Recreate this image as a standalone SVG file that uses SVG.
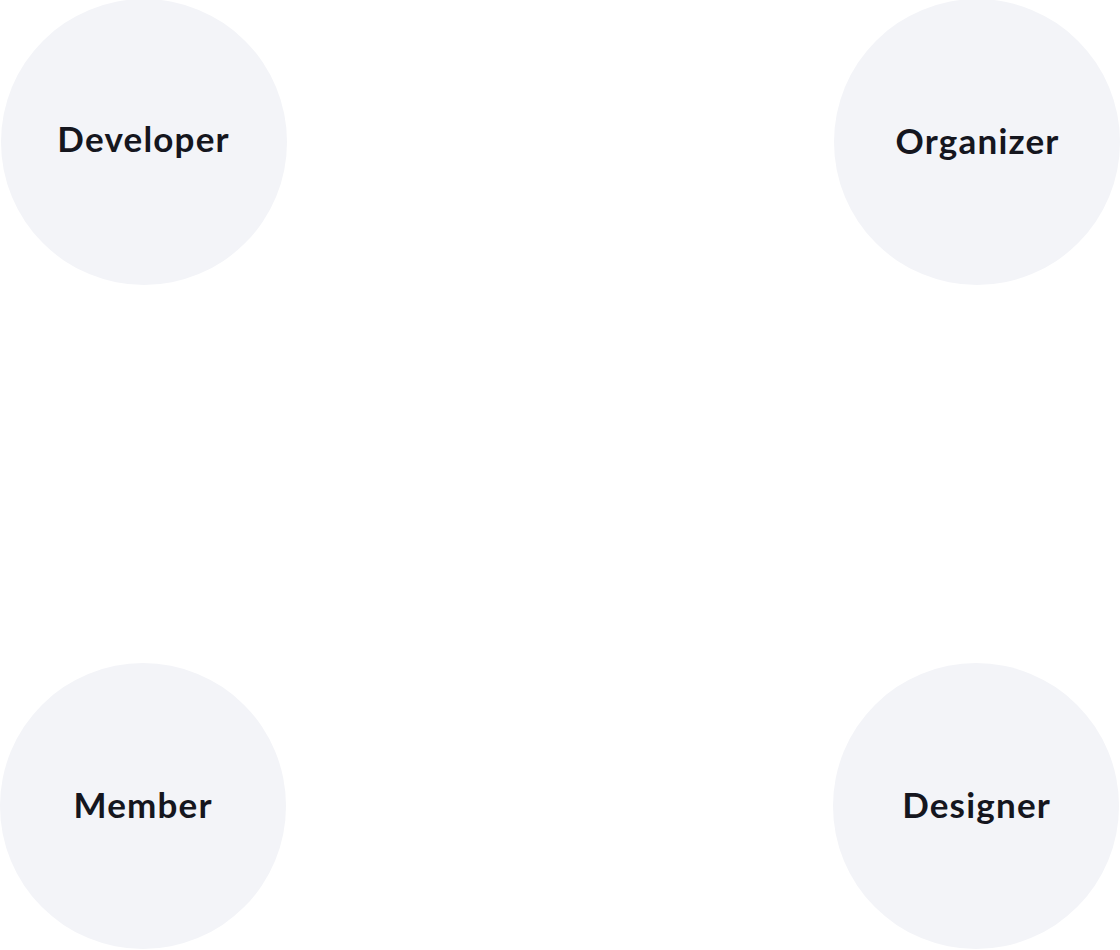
<svg xmlns="http://www.w3.org/2000/svg" width="1120" height="950" viewBox="0 0 1120 950">
<style>
.n{fill:#F3F4F8}
.t{font-family:Lato,"Liberation Sans",sans-serif;font-weight:700;font-size:35px;letter-spacing:1.2px;fill:#15161E;text-anchor:middle}
</style>
<rect width="1120" height="950" fill="#FFFFFF"/>
<g id="connectors"></g>
<g id="developer"><circle class="n" cx="144" cy="142" r="143"/><text class="t" x="143.6" y="152">Developer</text></g>
<g id="organizer"><circle class="n" cx="977" cy="142" r="143"/><text class="t" x="977.6" y="154">Organizer</text></g>
<g id="member"><circle class="n" cx="143" cy="806" r="143"/><text class="t" x="143.1" y="818">Member</text></g>
<g id="designer"><circle class="n" cx="976" cy="806" r="143"/><text class="t" x="976.6" y="818">Designer</text></g>
</svg>
